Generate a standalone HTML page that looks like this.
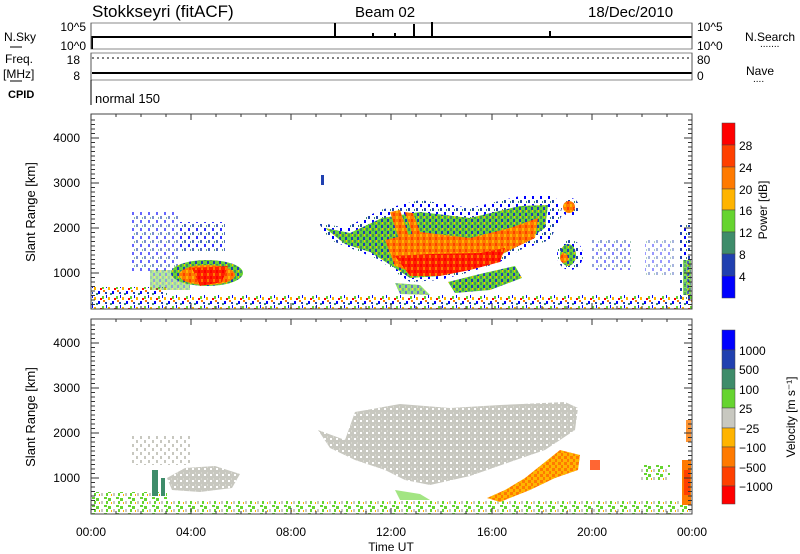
<!DOCTYPE html>
<html><head><meta charset="utf-8"><style>
body{margin:0;background:#fff;}
svg{display:block;font-family:"Liberation Sans",sans-serif;}
</style></head><body>
<svg width="800" height="554" viewBox="0 0 800 554" xmlns="http://www.w3.org/2000/svg">
<defs>
<pattern id="pn" width="14" height="10" patternUnits="userSpaceOnUse">
<rect x="0" y="1" width="2" height="3" fill="#0000ff"/><rect x="4" y="6" width="2" height="3" fill="#66d430"/>
<rect x="7" y="2" width="2" height="2" fill="#2040b0"/><rect x="10" y="7" width="2" height="3" fill="#ffb400"/>
<rect x="12" y="3" width="2" height="2" fill="#3e8c6a"/><rect x="2" y="8" width="2" height="2" fill="#ff0000"/>
<rect x="8" y="5" width="1" height="3" fill="#0000ff"/><rect x="5" y="0" width="2" height="2" fill="#ff7a00"/>
</pattern>
<pattern id="pb" width="8" height="8" patternUnits="userSpaceOnUse">
<rect x="0" y="0" width="2" height="3" fill="#2040b0"/><rect x="4" y="4" width="2" height="3" fill="#0000ff"/>
<rect x="6" y="1" width="1" height="2" fill="#3e8c6a"/>
</pattern>
<pattern id="pg" width="6" height="6" patternUnits="userSpaceOnUse">
<rect width="6" height="6" fill="#66d430"/><rect x="0" y="0" width="2" height="3" fill="#3e8c6a"/><rect x="3" y="3" width="2" height="3" fill="#2040b0"/><rect x="4" y="0" width="1" height="2" fill="#ffb400"/>
</pattern>
<pattern id="po" width="6" height="6" patternUnits="userSpaceOnUse">
<rect width="6" height="6" fill="#ff7a00"/><rect x="0" y="0" width="2" height="3" fill="#ffb400"/><rect x="3" y="3" width="2" height="3" fill="#ff4000"/>
</pattern>
<pattern id="pr" width="6" height="6" patternUnits="userSpaceOnUse">
<rect width="6" height="6" fill="#ff2000"/><rect x="0" y="0" width="2" height="3" fill="#ff0000"/><rect x="3" y="3" width="2" height="3" fill="#ff7a00"/>
</pattern>
<pattern id="vn" width="12" height="8" patternUnits="userSpaceOnUse">
<rect x="0" y="2" width="3" height="3" fill="#66d430"/><rect x="5" y="5" width="2" height="3" fill="#c8c8c0"/>
<rect x="8" y="1" width="3" height="2" fill="#66d430"/><rect x="10" y="5" width="2" height="3" fill="#66d430"/>
<rect x="3" y="6" width="1" height="2" fill="#ffb400"/>
</pattern>
<pattern id="vg" width="6" height="6" patternUnits="userSpaceOnUse">
<rect width="6" height="6" fill="#c8c8c0"/><rect x="0" y="0" width="2" height="2" fill="#fff"/><rect x="3" y="4" width="1" height="2" fill="#d8d8d0"/>
</pattern>
<pattern id="vgs" width="8" height="8" patternUnits="userSpaceOnUse">
<rect x="0" y="0" width="2" height="3" fill="#c8c8c0"/><rect x="4" y="4" width="2" height="3" fill="#c8c8c0"/>
</pattern>
<pattern id="vo" width="6" height="6" patternUnits="userSpaceOnUse">
<rect width="6" height="6" fill="#ffb400"/><rect x="0" y="0" width="3" height="3" fill="#ff7a00"/><rect x="3" y="3" width="2" height="3" fill="#ff7a00"/>
</pattern>
</defs>
<rect width="800" height="554" fill="#fff"/>
<text x="92" y="17" font-size="17">Stokkseyri (fitACF)</text>
<text x="355" y="17" font-size="15">Beam 02</text>
<text x="588" y="17" font-size="15">18/Dec/2010</text>
<g stroke="#000" fill="none">
<rect x="91" y="23" width="601" height="26" stroke="#888"/>
<rect x="91" y="53" width="601" height="27" stroke="#888"/>
<path d="M92 49V37H692" stroke-width="2"/>
<path d="M335 37V23M414 37V24M432 37V22M550 37V31M373 37V33M395 37V33" stroke-width="2"/>
<path d="M92 73H692" stroke-width="2"/>
<path d="M92 58H692" stroke-dasharray="2 3"/>
<path d="M91 80V105"/>
<path d="M91 23V49M91 53V80M692 23V49M692 53V80" stroke="#555"/>
</g>
<text x="4" y="41" font-size="12">N.Sky</text>
<path d="M10 47H22" stroke="#000"/>
<text x="86" y="31" font-size="12" text-anchor="end">10^5</text>
<text x="86" y="50" font-size="12" text-anchor="end">10^0</text>
<text x="697" y="31" font-size="12">10^5</text>
<text x="697" y="50" font-size="12">10^0</text>
<text x="745" y="41" font-size="12">N.Search</text>
<text x="760" y="47" font-size="10">.......</text>
<text x="5" y="63" font-size="12">Freq.</text>
<text x="3" y="78" font-size="12">[MHz]</text>
<path d="M10 81H22" stroke="#000"/>
<text x="80" y="64" font-size="12" text-anchor="end">18</text>
<text x="80" y="80" font-size="12" text-anchor="end">8</text>
<text x="697" y="64" font-size="12">80</text>
<text x="697" y="80" font-size="12">0</text>
<text x="746" y="75" font-size="12">Nave</text>
<text x="753" y="82" font-size="10">....</text>
<text x="8" y="98" font-size="11" font-weight="bold">CPID</text>
<text x="95" y="103" font-size="13">normal 150</text>

<!-- PANEL 1 data -->
<g>
<rect x="92" y="295" width="600" height="14" fill="url(#pn)"/>
<rect x="92" y="287" width="75" height="9" fill="url(#pn)"/>
<rect x="130" y="212" width="50" height="60" fill="url(#pb)" opacity="0.6"/>
<rect x="180" y="222" width="45" height="30" fill="url(#pb)" opacity="0.8"/>
<rect x="150" y="270" width="40" height="20" fill="url(#pg)" opacity="0.5"/>
<ellipse cx="207" cy="273" rx="36" ry="13" fill="url(#pg)"/>
<ellipse cx="207" cy="275" rx="28" ry="10" fill="url(#po)"/>
<path d="M192 268L228 266L222 282L200 286Z" fill="url(#pr)"/>
<path d="M318 222L345 228L380 210L420 200L470 208L520 196L555 195L562 215L550 240L520 250L500 262L470 272L440 280L410 282L395 272L380 260L355 250L330 240Z" fill="url(#pb)"/>
<path d="M325 228L350 233L382 218L420 212L470 218L520 206L548 205L545 228L520 245L495 258L470 268L440 276L410 278L392 266L370 252L345 244Z" fill="url(#pg)"/>
<path d="M385 240L420 232L470 238L510 228L538 218L535 238L500 255L470 265L420 275L395 266Z" fill="url(#po)"/>
<path d="M390 212L400 210L412 245L402 248ZM405 212L413 213L423 240L415 242Z" fill="url(#po)"/>
<path d="M395 256L430 254L480 253L505 248L500 262L470 270L440 276L410 276Z" fill="url(#pr)"/>
<path d="M448 282L480 274L515 266L522 278L490 290L455 293Z" fill="url(#pg)"/>
<path d="M395 283L420 285L430 295L400 294Z" fill="url(#pg)" opacity="0.7"/>
<ellipse cx="570" cy="255" rx="13" ry="15" fill="url(#pb)"/>
<ellipse cx="568" cy="255" rx="8" ry="11" fill="url(#pg)"/>
<ellipse cx="564" cy="258" rx="4" ry="5" fill="url(#po)"/>
<ellipse cx="570" cy="207" rx="9" ry="9" fill="url(#pb)"/>
<ellipse cx="569" cy="207" rx="6" ry="6" fill="url(#po)"/>
<rect x="592" y="240" width="40" height="30" fill="url(#pb)" opacity="0.5"/>
<rect x="645" y="240" width="30" height="35" fill="url(#pb)" opacity="0.4"/>
<rect x="680" y="225" width="12" height="75" fill="url(#pb)"/>
<rect x="683" y="260" width="8" height="35" fill="url(#pg)" opacity="0.8"/>
<rect x="321" y="175" width="3" height="10" fill="#2040b0"/>
</g>

<!-- PANEL 2 data -->
<g>
<rect x="92" y="501" width="600" height="13" fill="url(#vn)"/>
<rect x="92" y="492" width="75" height="10" fill="url(#vn)"/>
<rect x="130" y="435" width="60" height="30" fill="url(#vgs)"/>
<path d="M167 478L185 468L215 466L240 474L232 488L200 492L172 490Z" fill="url(#vg)"/>
<rect x="152" y="470" width="6" height="26" fill="#3e8c6a"/><rect x="161" y="478" width="4" height="18" fill="#3e8c6a"/>
<path d="M318 430L345 440L355 412L400 404L450 408L500 405L565 402L578 408L575 430L545 450L510 462L470 476L430 485L405 480L385 470L355 460L330 448Z" fill="url(#vg)"/>
<path d="M487 498L505 490L525 478L545 462L560 450L580 455L578 470L555 478L530 490L500 502Z" fill="url(#vo)"/>
<rect x="590" y="460" width="10" height="10" fill="#ff4000" opacity="0.8"/>
<path d="M395 490L420 494L430 500L400 500Z" fill="#66d430" opacity="0.6"/>
<rect x="640" y="465" width="30" height="15" fill="url(#vn)"/>
<rect x="682" y="460" width="9" height="45" fill="#ff7a00"/>
<rect x="684" y="470" width="6" height="25" fill="#ff4000"/>
<rect x="686" y="420" width="5" height="22" fill="#ff7a00" opacity="0.8"/>
</g>

<rect x="91" y="114" width="601" height="195" fill="none" stroke="#444"/>
<rect x="91" y="319" width="601" height="195" fill="none" stroke="#444"/>
<g stroke="#333" fill="none">
<path d="M91 309v-6M116 309v-3M141 309v-3M166 309v-3M191 309v-6M216 309v-3M241 309v-3M266 309v-3M291 309v-6M316 309v-3M341 309v-3M366 309v-3M391 309v-6M416 309v-3M441 309v-3M466 309v-3M492 309v-6M517 309v-3M542 309v-3M567 309v-3M592 309v-6M617 309v-3M642 309v-3M667 309v-3
M91 114v6M116 114v3M141 114v3M166 114v3M191 114v6M216 114v3M241 114v3M266 114v3M291 114v6M316 114v3M341 114v3M366 114v3M391 114v6M416 114v3M441 114v3M466 114v3M492 114v6M517 114v3M542 114v3M567 114v3M592 114v6M617 114v3M642 114v3M667 114v3
M91 514v-6M116 514v-3M141 514v-3M166 514v-3M191 514v-6M216 514v-3M241 514v-3M266 514v-3M291 514v-6M316 514v-3M341 514v-3M366 514v-3M391 514v-6M416 514v-3M441 514v-3M466 514v-3M492 514v-6M517 514v-3M542 514v-3M567 514v-3M592 514v-6M617 514v-3M642 514v-3M667 514v-3
M91 319v6M116 319v3M141 319v3M166 319v3M191 319v6M216 319v3M241 319v3M266 319v3M291 319v6M316 319v3M341 319v3M366 319v3M391 319v6M416 319v3M441 319v3M466 319v3M492 319v6M517 319v3M542 319v3M567 319v3M592 319v6M617 319v3M642 319v3M667 319v3"/>
<path d="M91 138h8M91 183h8M91 228h8M91 273h8M692 138h-8M692 183h-8M692 228h-8M692 273h-8M91 343h8M91 388h8M91 433h8M91 478h8M692 343h-8M692 388h-8M692 433h-8M692 478h-8"/>
<path d="M91 120h4M91 124.5h4M91 129h4M91 133.5h4M91 142.5h4M91 147h4M91 151.5h4M91 156h4M91 160.5h4M91 165h4M91 169.5h4M91 174h4M91 178.5h4M91 187.5h4M91 192h4M91 196.5h4M91 201h4M91 205.5h4M91 210h4M91 214.5h4M91 219h4M91 223.5h4M91 232.5h4M91 237h4M91 241.5h4M91 246h4M91 250.5h4M91 255h4M91 259.5h4M91 264h4M91 268.5h4M91 277.5h4M91 282h4M91 286.5h4M91 291h4M91 295.5h4M91 300h4M91 304.5h4"/>
<path d="M692 120h-4M692 124.5h-4M692 129h-4M692 133.5h-4M692 142.5h-4M692 147h-4M692 151.5h-4M692 156h-4M692 160.5h-4M692 165h-4M692 169.5h-4M692 174h-4M692 178.5h-4M692 187.5h-4M692 192h-4M692 196.5h-4M692 201h-4M692 205.5h-4M692 210h-4M692 214.5h-4M692 219h-4M692 223.5h-4M692 232.5h-4M692 237h-4M692 241.5h-4M692 246h-4M692 250.5h-4M692 255h-4M692 259.5h-4M692 264h-4M692 268.5h-4M692 277.5h-4M692 282h-4M692 286.5h-4M692 291h-4M692 295.5h-4M692 300h-4M692 304.5h-4"/>
<path transform="translate(0,205)" d="M91 120h4M91 124.5h4M91 129h4M91 133.5h4M91 142.5h4M91 147h4M91 151.5h4M91 156h4M91 160.5h4M91 165h4M91 169.5h4M91 174h4M91 178.5h4M91 187.5h4M91 192h4M91 196.5h4M91 201h4M91 205.5h4M91 210h4M91 214.5h4M91 219h4M91 223.5h4M91 232.5h4M91 237h4M91 241.5h4M91 246h4M91 250.5h4M91 255h4M91 259.5h4M91 264h4M91 268.5h4M91 277.5h4M91 282h4M91 286.5h4M91 291h4M91 295.5h4M91 300h4M91 304.5h4"/>
<path transform="translate(0,205)" d="M692 120h-4M692 124.5h-4M692 129h-4M692 133.5h-4M692 142.5h-4M692 147h-4M692 151.5h-4M692 156h-4M692 160.5h-4M692 165h-4M692 169.5h-4M692 174h-4M692 178.5h-4M692 187.5h-4M692 192h-4M692 196.5h-4M692 201h-4M692 205.5h-4M692 210h-4M692 214.5h-4M692 219h-4M692 223.5h-4M692 232.5h-4M692 237h-4M692 241.5h-4M692 246h-4M692 250.5h-4M692 255h-4M692 259.5h-4M692 264h-4M692 268.5h-4M692 277.5h-4M692 282h-4M692 286.5h-4M692 291h-4M692 295.5h-4M692 300h-4M692 304.5h-4"/>
</g>
<g font-size="12" text-anchor="end">
<text x="80" y="142">4000</text><text x="80" y="187">3000</text><text x="80" y="232">2000</text><text x="80" y="277">1000</text>
<text x="80" y="347">4000</text><text x="80" y="392">3000</text><text x="80" y="437">2000</text><text x="80" y="482">1000</text>
</g>
<text transform="translate(35,212) rotate(-90)" font-size="13" text-anchor="middle">Slant Range [km]</text>
<text transform="translate(35,417) rotate(-90)" font-size="13" text-anchor="middle">Slant Range [km]</text>
<g font-size="12" text-anchor="middle">
<text x="91" y="536">00:00</text><text x="191" y="536">04:00</text><text x="291" y="536">08:00</text><text x="391" y="536">12:00</text><text x="492" y="536">16:00</text><text x="592" y="536">20:00</text><text x="692" y="536">00:00</text>
</g>
<text x="391" y="551" font-size="12" text-anchor="middle">Time UT</text>
<g stroke="#444" stroke-width="0.5">
<rect x="722" y="123" width="13" height="22" fill="#ff0000"/>
<rect x="722" y="145" width="13" height="22" fill="#ff4000"/>
<rect x="722" y="167" width="13" height="22" fill="#ff7a00"/>
<rect x="722" y="189" width="13" height="21" fill="#ffb400"/>
<rect x="722" y="210" width="13" height="22" fill="#66d430"/>
<rect x="722" y="232" width="13" height="22" fill="#3e8c6a"/>
<rect x="722" y="254" width="13" height="22" fill="#2040b0"/>
<rect x="722" y="276" width="13" height="22" fill="#0000ff"/>
</g>
<g font-size="12"><text x="739" y="150">28</text><text x="739" y="172">24</text><text x="739" y="194">20</text><text x="739" y="215">16</text><text x="739" y="237">12</text><text x="739" y="259">8</text><text x="739" y="281">4</text></g>
<text transform="translate(767,210) rotate(-90)" font-size="12" text-anchor="middle">Power [dB]</text>
<g stroke="#444" stroke-width="0.5">
<rect x="722" y="330" width="13" height="20" fill="#0000ff"/>
<rect x="722" y="350" width="13" height="19" fill="#2040b0"/>
<rect x="722" y="369" width="13" height="20" fill="#3e8c6a"/>
<rect x="722" y="389" width="13" height="19" fill="#66d430"/>
<rect x="722" y="408" width="13" height="20" fill="#c8c8c0"/>
<rect x="722" y="428" width="13" height="19" fill="#ffb400"/>
<rect x="722" y="447" width="13" height="20" fill="#ff7a00"/>
<rect x="722" y="467" width="13" height="19" fill="#ff4000"/>
<rect x="722" y="486" width="13" height="18" fill="#ff0000"/>
</g>
<g font-size="12"><text x="739" y="355">1000</text><text x="739" y="374">500</text><text x="739" y="394">100</text><text x="739" y="413">25</text><text x="739" y="433">−25</text><text x="739" y="452">−100</text><text x="739" y="472">−500</text><text x="739" y="491">−1000</text></g>
<text transform="translate(795,417) rotate(-90)" font-size="12" text-anchor="middle">Velocity [m s⁻¹]</text>
</svg>
</body></html>
